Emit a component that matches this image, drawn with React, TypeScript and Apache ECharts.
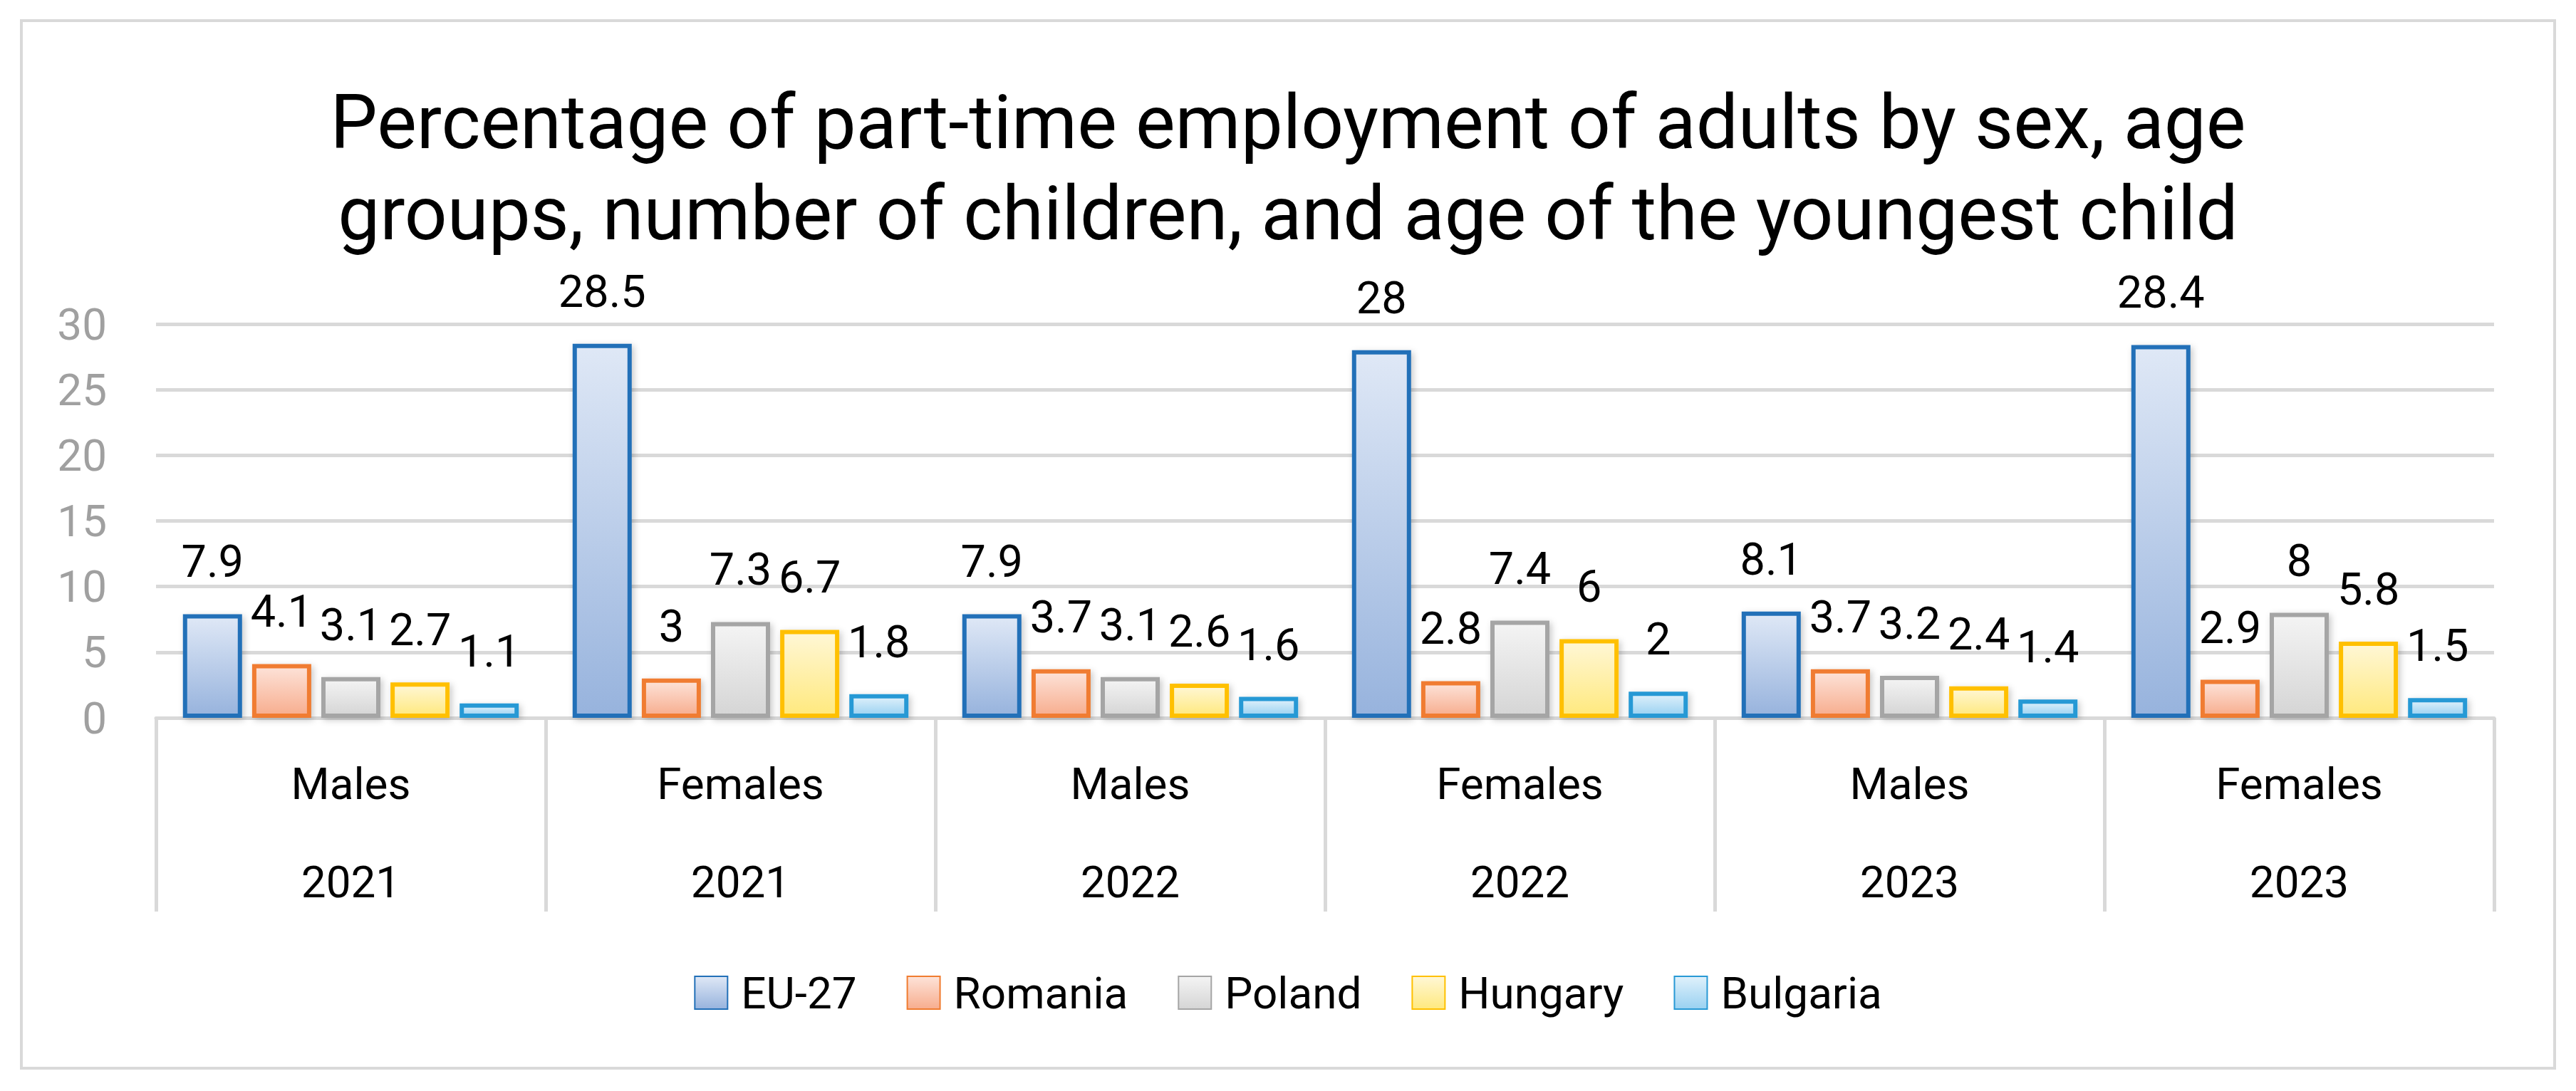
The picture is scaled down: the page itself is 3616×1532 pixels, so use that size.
import React, { useEffect, useRef } from "react";
import * as echarts from "echarts";

const sexes = ["Males", "Females", "Males", "Females", "Males", "Females"];
const years = ["2021", "2021", "2022", "2022", "2023", "2023"];
const seriesNames = ["EU-27", "Romania", "Poland", "Hungary", "Bulgaria"];
const eu27 = [7.9, 28.5, 7.9, 28, 8.1, 28.4];
const romania = [4.1, 3, 3.7, 2.8, 3.7, 2.9];
const poland = [3.1, 7.3, 3.1, 7.4, 3.2, 8];
const hungary = [2.7, 6.7, 2.6, 6, 2.4, 5.8];
const bulgaria = [1.1, 1.8, 1.6, 2, 1.4, 1.5];
const yTicks = { min: 0, max: 30, interval: 5 };
const titleText =
  "Percentage of part-time employment of adults by sex, age\ngroups, number of children, and age of the youngest child";

const seriesValues = [eu27, romania, poland, hungary, bulgaria];
const borderColors = ["#2270b8", "#f07c30", "#a5a5a5", "#ffc000", "#2899d5"];
const gradTop = ["#dfe8f6", "#fde3d9", "#f4f4f4", "#fff7d6", "#e0f1fb"];
const gradBottom = ["#97b3dd", "#f7ad8e", "#d5d5d5", "#ffe97e", "#99d1f1"];

const FONT = "Roboto, 'Noto Sans', sans-serif";

export default function App() {
  const ref = useRef<HTMLDivElement>(null);
  useEffect(() => {
    document.body.style.margin = "0";
    if (!ref.current) return;
    const chart = echarts.init(ref.current, undefined, { renderer: "svg" });
    const categories = sexes.map((s, i) => `${s}\n${years[i]}`);
    const series = seriesNames.map((name, si) => ({
      name,
      type: "bar",
      data: seriesValues[si],
      barWidth: 83,
      barGap: "17%",
      itemStyle: {
        color: {
          type: "linear",
          x: 0,
          y: 0,
          x2: 0,
          y2: 1,
          colorStops: [
            { offset: 0, color: gradTop[si] },
            { offset: 1, color: gradBottom[si] },
          ],
        },
        borderColor: borderColors[si],
        borderWidth: 6,
        shadowBlur: 10,
        shadowColor: "rgba(0,0,0,0.22)",
        shadowOffsetX: 3,
        shadowOffsetY: 3,
      },
      label: {
        show: true,
        position: "top",
        distance: 42,
        color: "#000",
        fontFamily: FONT,
        fontSize: 63,
      },
    }));
    chart.setOption({
      animation: false,
      backgroundColor: "#fff",
      legend: {
        data: seriesNames,
        left: "center",
        top: 1358,
        itemWidth: 46,
        itemHeight: 46,
        itemGap: 70,
        icon: "rect",
        textStyle: {
          fontFamily: FONT,
          fontSize: 62,
          color: "#000",
          padding: [0, 0, 0, 14],
        },
      },
      grid: { left: 219, right: 115, top: 455, bottom: 524 },
      xAxis: {
        type: "category",
        data: categories,
        boundaryGap: true,
        axisLine: { show: true, lineStyle: { color: "#d9d9d9", width: 5 } },
        axisTick: {
          show: true,
          interval: 0,
          length: 272,
          lineStyle: { color: "#d9d9d9", width: 5 },
        },
        axisLabel: {
          interval: 0,
          margin: 23,
          color: "#000",
          fontFamily: FONT,
          fontSize: 62,
          lineHeight: 138,
        },
      },
      yAxis: {
        type: "value",
        min: yTicks.min,
        max: yTicks.max,
        interval: yTicks.interval,
        axisLine: { show: false },
        axisTick: { show: false },
        splitLine: { lineStyle: { color: "#d9d9d9", width: 5 } },
        axisLabel: {
          margin: 69,
          color: "#a0a0a0",
          fontFamily: FONT,
          fontSize: 62,
        },
      },
      graphic: [
        {
          type: "rect",
          shape: { x: 30, y: 29, width: 3556, height: 1471 },
          style: { fill: "none", stroke: "#d9d9d9", lineWidth: 4 },
          silent: true,
          z: -1,
        },
        {
          type: "text",
          x: 1808,
          y: 108,
          silent: true,
          style: {
            text: titleText,
            fill: "#000",
            fontFamily: FONT,
            fontSize: 105,
            lineHeight: 128,
            align: "center",
            verticalAlign: "top",
          },
        },
      ],
      series,
    });
    return () => chart.dispose();
  }, []);
  return <div ref={ref} style={{ width: 3616, height: 1532 }} />;
}
